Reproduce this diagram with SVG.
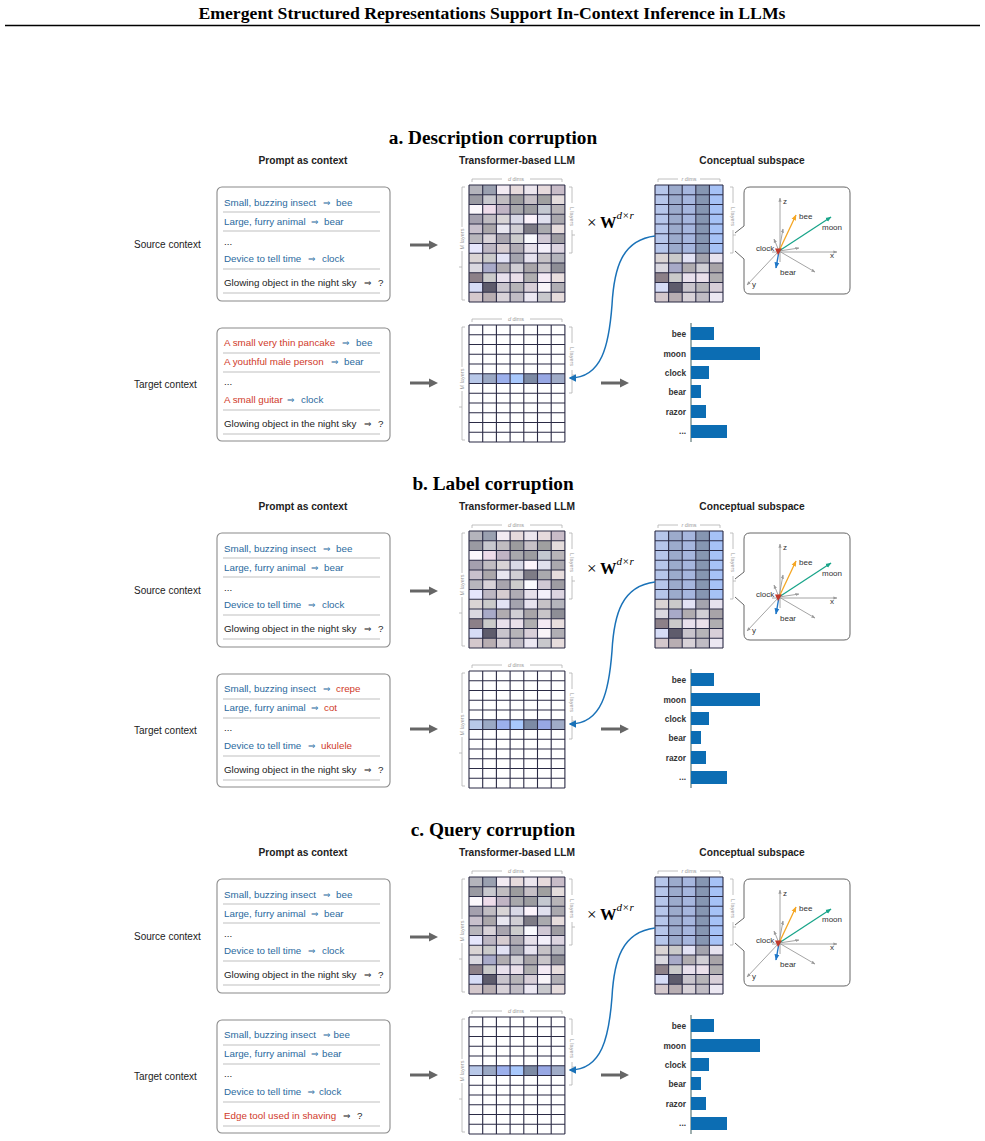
<svg xmlns="http://www.w3.org/2000/svg" xmlns:xlink="http://www.w3.org/1999/xlink" width="985" height="1141" viewBox="0 0 985 1141">
<style>
.hdr{font-family:"Liberation Serif",serif;font-weight:bold;fill:#000}
.title{font-family:"Liberation Serif",serif;font-weight:bold;font-size:19.3px;fill:#000;text-anchor:middle}
.col{font-family:"Liberation Sans",Arial,sans-serif;font-weight:bold;font-size:10.2px;fill:#222;text-anchor:middle}
.side{font-family:"Liberation Sans",Arial,sans-serif;font-size:10px;fill:#222}
.t{font-family:"Liberation Sans",Arial,sans-serif;font-size:9.8px}
.ar{font-family:"DejaVu Sans",sans-serif;font-size:8.8px}
.b{fill:#2b6a9e}
.r{fill:#d03a2a}
.k{fill:#222}
.box{fill:#fff;stroke:#8a8a8a;stroke-width:1.1}
.sep{stroke:#d5d5d5;stroke-width:1.4;fill:none}
.grid{fill:none;stroke:#2b2b45;stroke-width:1.1}
.brk{fill:none;stroke:#b0b0b0;stroke-width:0.8}
.bt{font-family:"Liberation Sans",Arial,sans-serif;font-size:5.5px;fill:#9a9a9a;text-anchor:middle}
.ax{fill:none;stroke:#9a9a9a;stroke-width:0.9}
.lb3{font-family:"Liberation Sans",Arial,sans-serif;font-size:8px;fill:#333}
.bl{font-family:"Liberation Sans",Arial,sans-serif;font-weight:bold;font-size:8.3px;fill:#333;text-anchor:end}
.bar{fill:#0c6db3}
.garrow{fill:none;stroke:#666;stroke-width:3}
.curve{fill:none;stroke:#1a72b8;stroke-width:1.5}
</style>
<defs>
<marker id="mg" viewBox="0 0 10 10" refX="0" refY="5" markerWidth="3" markerHeight="3.4" orient="auto"><path d="M0 0L10 5L0 10z" fill="#666"/></marker>
<marker id="mc" viewBox="0 0 10 10" refX="8" refY="5" markerWidth="5" markerHeight="5" orient="auto"><path d="M0 0L10 5L0 10z" fill="#1a72b8"/></marker>
<marker id="m3g" viewBox="0 0 10 10" refX="9" refY="5" markerWidth="4.5" markerHeight="4.5" orient="auto"><path d="M0 1L10 5L0 9z" fill="#9a9a9a"/></marker>
<marker id="m3o" viewBox="0 0 10 10" refX="9" refY="5" markerWidth="4.5" markerHeight="4.5" orient="auto"><path d="M0 1L10 5L0 9z" fill="#f5a623"/></marker>
<marker id="m3t" viewBox="0 0 10 10" refX="9" refY="5" markerWidth="4.5" markerHeight="4.5" orient="auto"><path d="M0 1L10 5L0 9z" fill="#1aa58a"/></marker>
<marker id="m3b" viewBox="0 0 10 10" refX="9" refY="5" markerWidth="4.5" markerHeight="4.5" orient="auto"><path d="M0 1L10 5L0 9z" fill="#1f77c8"/></marker>

<g id="llmM">
<rect x="0" y="0" width="13.7" height="9.75" fill="#b4b4bc"/><rect x="13.7" y="0" width="13.7" height="9.75" fill="#9aa0b0"/><rect x="27.4" y="0" width="13.7" height="9.75" fill="#f2eaf2"/><rect x="41.1" y="0" width="13.7" height="9.75" fill="#e6dadc"/><rect x="54.8" y="0" width="13.7" height="9.75" fill="#ece6ee"/><rect x="68.5" y="0" width="13.7" height="9.75" fill="#e6dadc"/><rect x="82.2" y="0" width="13.7" height="9.75" fill="#c8bcc8"/>
<rect x="0" y="9.75" width="13.7" height="9.75" fill="#9a9aa2"/><rect x="13.7" y="9.75" width="13.7" height="9.75" fill="#c8c8ce"/><rect x="27.4" y="9.75" width="13.7" height="9.75" fill="#c0bcc0"/><rect x="41.1" y="9.75" width="13.7" height="9.75" fill="#9c9c9e"/><rect x="54.8" y="9.75" width="13.7" height="9.75" fill="#c6c0c6"/><rect x="68.5" y="9.75" width="13.7" height="9.75" fill="#a0a0a0"/><rect x="82.2" y="9.75" width="13.7" height="9.75" fill="#e4dcdc"/>
<rect x="0" y="19.5" width="13.7" height="9.75" fill="#fcf8fc"/><rect x="13.7" y="19.5" width="13.7" height="9.75" fill="#eedcea"/><rect x="27.4" y="19.5" width="13.7" height="9.75" fill="#c0b4c4"/><rect x="41.1" y="19.5" width="13.7" height="9.75" fill="#a8a8ac"/><rect x="54.8" y="19.5" width="13.7" height="9.75" fill="#9c9ca0"/><rect x="68.5" y="19.5" width="13.7" height="9.75" fill="#c4c8d0"/><rect x="82.2" y="19.5" width="13.7" height="9.75" fill="#b8b4b8"/>
<rect x="0" y="29.25" width="13.7" height="9.75" fill="#a4a0ae"/><rect x="13.7" y="29.25" width="13.7" height="9.75" fill="#c0bcc2"/><rect x="27.4" y="29.25" width="13.7" height="9.75" fill="#d8d4d6"/><rect x="41.1" y="29.25" width="13.7" height="9.75" fill="#d8d8e6"/><rect x="54.8" y="29.25" width="13.7" height="9.75" fill="#fcf4fc"/><rect x="68.5" y="29.25" width="13.7" height="9.75" fill="#e0e0ee"/><rect x="82.2" y="29.25" width="13.7" height="9.75" fill="#aaa8ae"/>
<rect x="0" y="39" width="13.7" height="9.75" fill="#c8c0cc"/><rect x="13.7" y="39" width="13.7" height="9.75" fill="#aaa6aa"/><rect x="27.4" y="39" width="13.7" height="9.75" fill="#e8e6f0"/><rect x="41.1" y="39" width="13.7" height="9.75" fill="#d0ced4"/><rect x="54.8" y="39" width="13.7" height="9.75" fill="#7e7c86"/><rect x="68.5" y="39" width="13.7" height="9.75" fill="#aaaaae"/><rect x="82.2" y="39" width="13.7" height="9.75" fill="#e6dcdc"/>
<rect x="0" y="48.75" width="13.7" height="9.75" fill="#b8b6bc"/><rect x="13.7" y="48.75" width="13.7" height="9.75" fill="#d8d2d8"/><rect x="27.4" y="48.75" width="13.7" height="9.75" fill="#a8a4ae"/><rect x="41.1" y="48.75" width="13.7" height="9.75" fill="#cccccc"/><rect x="54.8" y="48.75" width="13.7" height="9.75" fill="#fafafe"/><rect x="68.5" y="48.75" width="13.7" height="9.75" fill="#d0c8d4"/><rect x="82.2" y="48.75" width="13.7" height="9.75" fill="#9e9ca2"/>
<rect x="0" y="58.5" width="13.7" height="9.75" fill="#e6e6fc"/><rect x="13.7" y="58.5" width="13.7" height="9.75" fill="#bcb6c2"/><rect x="27.4" y="58.5" width="13.7" height="9.75" fill="#d6ccd0"/><rect x="41.1" y="58.5" width="13.7" height="9.75" fill="#b0acb4"/><rect x="54.8" y="58.5" width="13.7" height="9.75" fill="#e6e0ea"/><rect x="68.5" y="58.5" width="13.7" height="9.75" fill="#f4f0fa"/><rect x="82.2" y="58.5" width="13.7" height="9.75" fill="#dcd4e0"/>
<rect x="0" y="68.25" width="13.7" height="9.75" fill="#dad4d4"/><rect x="13.7" y="68.25" width="13.7" height="9.75" fill="#cacaca"/><rect x="27.4" y="68.25" width="13.7" height="9.75" fill="#e2e2f4"/><rect x="41.1" y="68.25" width="13.7" height="9.75" fill="#a4a4ae"/><rect x="54.8" y="68.25" width="13.7" height="9.75" fill="#e6e2ee"/><rect x="68.5" y="68.25" width="13.7" height="9.75" fill="#c6c2c6"/><rect x="82.2" y="68.25" width="13.7" height="9.75" fill="#b4b4bc"/>
<rect x="0" y="78" width="13.7" height="9.75" fill="#dad8e0"/><rect x="13.7" y="78" width="13.7" height="9.75" fill="#a8aac8"/><rect x="27.4" y="78" width="13.7" height="9.75" fill="#b0acb0"/><rect x="41.1" y="78" width="13.7" height="9.75" fill="#d0ced4"/><rect x="54.8" y="78" width="13.7" height="9.75" fill="#a8a4a8"/><rect x="68.5" y="78" width="13.7" height="9.75" fill="#c8c4c8"/><rect x="82.2" y="78" width="13.7" height="9.75" fill="#8e8e96"/>
<rect x="0" y="87.75" width="13.7" height="9.75" fill="#8c8088"/><rect x="13.7" y="87.75" width="13.7" height="9.75" fill="#cacaca"/><rect x="27.4" y="87.75" width="13.7" height="9.75" fill="#e8e0ec"/><rect x="41.1" y="87.75" width="13.7" height="9.75" fill="#eae0ea"/><rect x="54.8" y="87.75" width="13.7" height="9.75" fill="#b0aeb0"/><rect x="68.5" y="87.75" width="13.7" height="9.75" fill="#f4eaf4"/><rect x="82.2" y="87.75" width="13.7" height="9.75" fill="#e8dede"/>
<rect x="0" y="97.5" width="13.7" height="9.75" fill="#d6dcf6"/><rect x="13.7" y="97.5" width="13.7" height="9.75" fill="#5e5c6c"/><rect x="27.4" y="97.5" width="13.7" height="9.75" fill="#c8c4cc"/><rect x="41.1" y="97.5" width="13.7" height="9.75" fill="#b6b4b8"/><rect x="54.8" y="97.5" width="13.7" height="9.75" fill="#d8cfd8"/><rect x="68.5" y="97.5" width="13.7" height="9.75" fill="#f8f4f8"/><rect x="82.2" y="97.5" width="13.7" height="9.75" fill="#b0aeb4"/>
<rect x="0" y="107.25" width="13.7" height="9.75" fill="#d4c8cc"/><rect x="13.7" y="107.25" width="13.7" height="9.75" fill="#b8aeb2"/><rect x="27.4" y="107.25" width="13.7" height="9.75" fill="#d8d2d8"/><rect x="41.1" y="107.25" width="13.7" height="9.75" fill="#c0bcc4"/><rect x="54.8" y="107.25" width="13.7" height="9.75" fill="#ece8f2"/><rect x="68.5" y="107.25" width="13.7" height="9.75" fill="#c8c8cc"/><rect x="82.2" y="107.25" width="13.7" height="9.75" fill="#e6dcdc"/>
<path class="grid" d="M0 0V117M13.7 0V117M27.4 0V117M41.1 0V117M54.8 0V117M68.5 0V117M82.2 0V117M95.9 0V117M0 0H95.9M0 9.75H95.9M0 19.5H95.9M0 29.25H95.9M0 39H95.9M0 48.75H95.9M0 58.5H95.9M0 68.25H95.9M0 78H95.9M0 87.75H95.9M0 97.5H95.9M0 107.25H95.9M0 117H95.9"/>
</g>

<g id="tgtM">
<rect x="0" y="0" width="95.9" height="117" fill="#fff"/>
<rect x="0" y="48.75" width="13.7" height="9.75" fill="#b8c8e8"/><rect x="13.7" y="48.75" width="13.7" height="9.75" fill="#9aa8c4"/><rect x="27.4" y="48.75" width="13.7" height="9.75" fill="#9cb0ec"/><rect x="41.1" y="48.75" width="13.7" height="9.75" fill="#a8c8fc"/><rect x="54.8" y="48.75" width="13.7" height="9.75" fill="#7c8aa4"/><rect x="68.5" y="48.75" width="13.7" height="9.75" fill="#98a8e4"/><rect x="82.2" y="48.75" width="13.7" height="9.75" fill="#a0acc8"/>
<path class="grid" d="M0 0V117M13.7 0V117M27.4 0V117M41.1 0V117M54.8 0V117M68.5 0V117M82.2 0V117M95.9 0V117M0 0H95.9M0 9.75H95.9M0 19.5H95.9M0 29.25H95.9M0 39H95.9M0 48.75H95.9M0 58.5H95.9M0 68.25H95.9M0 78H95.9M0 87.75H95.9M0 97.5H95.9M0 107.25H95.9M0 117H95.9"/>
</g>

<g id="subM">
<rect x="0" y="0" width="13.6" height="68.25" fill="#b6c6ea"/><rect x="13.6" y="0" width="13.6" height="68.25" fill="#9cabcc"/><rect x="27.2" y="0" width="13.6" height="68.25" fill="#a6b6de"/><rect x="40.8" y="0" width="13.6" height="68.25" fill="#8696b2"/><rect x="54.4" y="0" width="13.6" height="68.25" fill="#a6c2f6"/>
<rect x="0" y="68.25" width="13.6" height="9.75" fill="#dad4d4"/><rect x="13.6" y="68.25" width="13.6" height="9.75" fill="#cacaca"/><rect x="27.2" y="68.25" width="13.6" height="9.75" fill="#e2e2f4"/><rect x="40.8" y="68.25" width="13.6" height="9.75" fill="#a4a4ae"/><rect x="54.4" y="68.25" width="13.6" height="9.75" fill="#e6e2ee"/>
<rect x="0" y="78" width="13.6" height="9.75" fill="#dad8e0"/><rect x="13.6" y="78" width="13.6" height="9.75" fill="#a8aac8"/><rect x="27.2" y="78" width="13.6" height="9.75" fill="#b0acb0"/><rect x="40.8" y="78" width="13.6" height="9.75" fill="#d0ced4"/><rect x="54.4" y="78" width="13.6" height="9.75" fill="#a8a4a8"/>
<rect x="0" y="87.75" width="13.6" height="9.75" fill="#8c8088"/><rect x="13.6" y="87.75" width="13.6" height="9.75" fill="#cacaca"/><rect x="27.2" y="87.75" width="13.6" height="9.75" fill="#e8e0ec"/><rect x="40.8" y="87.75" width="13.6" height="9.75" fill="#eae0ea"/><rect x="54.4" y="87.75" width="13.6" height="9.75" fill="#b0aeb0"/>
<rect x="0" y="97.5" width="13.6" height="9.75" fill="#d6dcf6"/><rect x="13.6" y="97.5" width="13.6" height="9.75" fill="#5e5c6c"/><rect x="27.2" y="97.5" width="13.6" height="9.75" fill="#c8c4cc"/><rect x="40.8" y="97.5" width="13.6" height="9.75" fill="#b6b4b8"/><rect x="54.4" y="97.5" width="13.6" height="9.75" fill="#d8cfd8"/>
<rect x="0" y="107.25" width="13.6" height="9.75" fill="#d4c8cc"/><rect x="13.6" y="107.25" width="13.6" height="9.75" fill="#b8aeb2"/><rect x="27.2" y="107.25" width="13.6" height="9.75" fill="#d8d2d8"/><rect x="40.8" y="107.25" width="13.6" height="9.75" fill="#c0bcc4"/><rect x="54.4" y="107.25" width="13.6" height="9.75" fill="#ece8f2"/>
<path class="grid" d="M0 0V117M13.6 0V117M27.2 0V117M40.8 0V117M54.4 0V117M68 0V117M0 0H68M0 9.75H68M0 19.5H68M0 29.25H68M0 39H68M0 48.75H68M0 58.5H68M0 68.25H68M0 78H68M0 87.75H68M0 97.5H68M0 107.25H68M0 117H68"/>
</g>

<g id="llmBr">
<path class="brk" d="M3 -3V-6H33M61 -6H93V-3"/>
<text class="bt" x="47" y="-4.2"><tspan font-style="italic">d</tspan> dims</text>
<path class="brk" d="M-4 2H-7V42M-7 66V115H-4M-7 82H-10"/>
<text class="bt" transform="translate(-5,54) rotate(-90)">M layers</text>
<path class="brk" d="M100 2H103V18M103 45V68H100M103 50H106"/>
<text class="bt" transform="translate(101,31.5) rotate(90)">L layers</text>
</g>

<g id="subBr">
<path class="brk" d="M3 -3V-6H23M45 -6H65V-3"/>
<text class="bt" x="34" y="-4.2"><tspan font-style="italic">r</tspan> dims</text>
<path class="brk" d="M75 2H78V18M78 45V68H75M78 50H81"/>
<text class="bt" transform="translate(76,31.5) rotate(90)">L layers</text>
</g>

<g id="srcPrompt">
<rect class="box" x="217" y="187" width="173" height="114" rx="5"/>
<path class="sep" d="M223 212H380M223 231H380M223 269H380M223 293H380"/>
<text class="t b" x="224" y="206">Small, buzzing insect</text><text class="ar b" x="323" y="206">⇒</text><text class="t b" x="336" y="206">bee</text>
<text class="t b" x="224" y="224.5">Large, furry animal</text><text class="ar b" x="311" y="224.5">⇒</text><text class="t b" x="324" y="224.5">bear</text>
<text class="t k" x="224" y="245">...</text>
<text class="t b" x="224" y="262">Device to tell time</text><text class="ar b" x="308" y="262">⇒</text><text class="t b" x="322" y="262">clock</text>
<text class="t k" x="224" y="286">Glowing object in the night sky</text><text class="ar k" x="364" y="286">⇒</text><text class="t k" x="378" y="286">?</text>
</g>

<g id="space3d">
<path d="M750 187H844Q850 187 850 193V288Q850 294 844 294H750Q744 294 744 288V259L735 251M735 233L744 226V193Q744 187 750 187" fill="#fff" stroke="#666" stroke-width="1"/>
<path class="ax" d="M780 262V198" marker-end="url(#m3g)"/>
<path class="ax" d="M772 252H837" marker-end="url(#m3g)"/>
<path class="ax" d="M779 251L747 285" marker-end="url(#m3g)"/>
<path class="ax" d="M779 251L783 229" marker-end="url(#m3g)"/>
<path class="ax" d="M779 251L799 248" marker-end="url(#m3g)"/>
<path class="ax" d="M779 251L815 272" marker-end="url(#m3g)"/>
<path class="ax" d="M779 251L774 239" marker-end="url(#m3g)"/>
<path d="M779 251L796 215" fill="none" stroke="#f5a623" stroke-width="1.3" marker-end="url(#m3o)"/>
<path d="M779 251L831 217" fill="none" stroke="#1aa58a" stroke-width="1.3" marker-end="url(#m3t)"/>
<path d="M779 251L776 268" fill="none" stroke="#1f77c8" stroke-width="1.4" marker-end="url(#m3b)"/>
<polygon points="775,248.5 782,248.5 778,255" fill="#c0392b"/>
<text class="lb3" x="783" y="204">z</text>
<text class="lb3" x="799" y="219">bee</text>
<text class="lb3" x="822" y="230">moon</text>
<text class="lb3" x="756" y="251">clock</text>
<text class="lb3" x="830" y="258">x</text>
<text class="lb3" x="780" y="275">bear</text>
<text class="lb3" x="752" y="287">y</text>
</g>

<g id="bars">
<path d="M691 323V442" stroke="#3f5f5f" stroke-width="1" fill="none"/>
<rect class="bar" x="691" y="327" width="23" height="13"/>
<rect class="bar" x="691" y="347" width="69" height="13"/>
<rect class="bar" x="691" y="366" width="18" height="13"/>
<rect class="bar" x="691" y="385" width="10" height="13"/>
<rect class="bar" x="691" y="405" width="15" height="13"/>
<rect class="bar" x="691" y="425" width="36" height="13"/>
<text class="bl" x="686" y="336.5">bee</text>
<text class="bl" x="686" y="356.5">moon</text>
<text class="bl" x="686" y="375.5">clock</text>
<text class="bl" x="686" y="394.5">bear</text>
<text class="bl" x="686" y="414.5">razor</text>
<text class="bl" x="686" y="433.5">...</text>
</g>

<g id="times">
<text font-family="Liberation Serif,serif" font-size="17" fill="#000" x="587" y="227.5">×</text>
<text font-family="Liberation Serif,serif" font-size="16.5" font-weight="bold" fill="#000" x="600" y="227.5">W</text>
<text font-family="Liberation Serif,serif" font-size="11" font-style="italic" fill="#000" x="616.5" y="219">d×r</text>
</g>

<g id="conn">
<path class="garrow" d="M410 245H429" marker-end="url(#mg)"/>
<path class="garrow" d="M410 383H429" marker-end="url(#mg)"/>
<path class="garrow" d="M601 383H620" marker-end="url(#mg)"/>
<path class="curve" d="M655 236C622 240 614 268 612 305C609 345 602 378 570 378" marker-end="url(#mc)"/>
</g>

<g id="headers">
<text class="col" x="303" y="164">Prompt as context</text>
<text class="col" x="517" y="164">Transformer-based LLM</text>
<text class="col" x="752" y="164">Conceptual subspace</text>
<text class="side" x="134" y="248">Source context</text>
<text class="side" x="134" y="388">Target context</text>
</g>
</defs>

<rect width="985" height="1141" fill="#fff"/>
<text class="hdr" x="492" y="19" font-size="17" text-anchor="middle" textLength="587" lengthAdjust="spacingAndGlyphs">Emergent Structured Representations Support In-Context Inference in LLMs</text>
<path d="M5 25.5H980" stroke="#000" stroke-width="1.6"/>

<!-- Panel a -->
<g id="panel-a">
<text class="title" x="493" y="144">a. Description corruption</text>
<use xlink:href="#headers"/>
<g id="a-source-prompt"><use xlink:href="#srcPrompt"/></g>
<g id="a-target-prompt">
<rect class="box" x="217" y="328" width="173" height="113" rx="5"/>
<path class="sep" d="M223 353H380M223 372H380M223 410H380M223 434H380"/>
<text class="t r" x="224" y="346">A small very thin pancake</text><text class="ar b" x="342" y="346">⇒</text><text class="t b" x="356" y="346">bee</text>
<text class="t r" x="224" y="365">A youthful male person</text><text class="ar b" x="331" y="365">⇒</text><text class="t b" x="344" y="365">bear</text>
<text class="t k" x="224" y="385">...</text>
<text class="t r" x="224" y="403">A small guitar</text><text class="ar b" x="287" y="403">⇒</text><text class="t b" x="301" y="403">clock</text>
<text class="t k" x="224" y="427">Glowing object in the night sky</text><text class="ar k" x="364" y="427">⇒</text><text class="t k" x="378" y="427">?</text>
</g>
<g id="a-llm-source"><use xlink:href="#llmM" transform="translate(469,185)"/><use xlink:href="#llmBr" transform="translate(469,185)"/></g>
<g id="a-llm-target"><use xlink:href="#tgtM" transform="translate(469,325)"/><use xlink:href="#llmBr" transform="translate(469,325)"/></g>
<g id="a-projection"><use xlink:href="#times"/></g>
<g id="a-subspace"><use xlink:href="#subM" transform="translate(655,185)"/><use xlink:href="#subBr" transform="translate(655,185)"/></g>
<g id="a-space3d"><use xlink:href="#space3d"/></g>
<g id="a-bars"><use xlink:href="#bars"/></g>
<g id="a-connectors"><use xlink:href="#conn"/></g>
</g>

<!-- Panel b -->
<g id="panel-b" transform="translate(0,346)">
<text class="title" x="493" y="144">b. Label corruption</text>
<use xlink:href="#headers"/>
<g id="b-source-prompt"><use xlink:href="#srcPrompt"/></g>
<g id="b-target-prompt">
<rect class="box" x="217" y="328" width="173" height="113" rx="5"/>
<path class="sep" d="M223 353H380M223 372H380M223 410H380M223 434H380"/>
<text class="t b" x="224" y="346">Small, buzzing insect</text><text class="ar b" x="323" y="346">⇒</text><text class="t r" x="336" y="346">crepe</text>
<text class="t b" x="224" y="365">Large, furry animal</text><text class="ar b" x="311" y="365">⇒</text><text class="t r" x="324" y="365">cot</text>
<text class="t k" x="224" y="385">...</text>
<text class="t b" x="224" y="403">Device to tell time</text><text class="ar b" x="308" y="403">⇒</text><text class="t r" x="321" y="403">ukulele</text>
<text class="t k" x="224" y="427">Glowing object in the night sky</text><text class="ar k" x="364" y="427">⇒</text><text class="t k" x="378" y="427">?</text>
</g>
<g id="b-llm-source"><use xlink:href="#llmM" transform="translate(469,185)"/><use xlink:href="#llmBr" transform="translate(469,185)"/></g>
<g id="b-llm-target"><use xlink:href="#tgtM" transform="translate(469,325)"/><use xlink:href="#llmBr" transform="translate(469,325)"/></g>
<g id="b-projection"><use xlink:href="#times"/></g>
<g id="b-subspace"><use xlink:href="#subM" transform="translate(655,185)"/><use xlink:href="#subBr" transform="translate(655,185)"/></g>
<g id="b-space3d"><use xlink:href="#space3d"/></g>
<g id="b-bars"><use xlink:href="#bars"/></g>
<g id="b-connectors"><use xlink:href="#conn"/></g>
</g>

<!-- Panel c -->
<g id="panel-c" transform="translate(0,692)">
<text class="title" x="493" y="144">c. Query corruption</text>
<use xlink:href="#headers"/>
<g id="c-source-prompt"><use xlink:href="#srcPrompt"/></g>
<g id="c-target-prompt">
<rect class="box" x="217" y="328" width="173" height="113" rx="5"/>
<path class="sep" d="M223 353H380M223 372H380M223 410H380M223 434H380"/>
<text class="t b" x="224" y="346">Small, buzzing insect</text><text class="ar b" x="323" y="346">⇒</text><text class="t b" x="333.5" y="346">bee</text>
<text class="t b" x="224" y="365">Large, furry animal</text><text class="ar b" x="311" y="365">⇒</text><text class="t b" x="322" y="365">bear</text>
<text class="t k" x="224" y="385">...</text>
<text class="t b" x="224" y="403">Device to tell time</text><text class="ar b" x="307.5" y="403">⇒</text><text class="t b" x="319" y="403">clock</text>
<text class="t r" x="224" y="427">Edge tool used in shaving</text><text class="ar k" x="343" y="427">⇒</text><text class="t k" x="357" y="427">?</text>
</g>
<g id="c-llm-source"><use xlink:href="#llmM" transform="translate(469,185)"/><use xlink:href="#llmBr" transform="translate(469,185)"/></g>
<g id="c-llm-target"><use xlink:href="#tgtM" transform="translate(469,325)"/><use xlink:href="#llmBr" transform="translate(469,325)"/></g>
<g id="c-projection"><use xlink:href="#times"/></g>
<g id="c-subspace"><use xlink:href="#subM" transform="translate(655,185)"/><use xlink:href="#subBr" transform="translate(655,185)"/></g>
<g id="c-space3d"><use xlink:href="#space3d"/></g>
<g id="c-bars"><use xlink:href="#bars"/></g>
<g id="c-connectors"><use xlink:href="#conn"/></g>
</g>
</svg>
